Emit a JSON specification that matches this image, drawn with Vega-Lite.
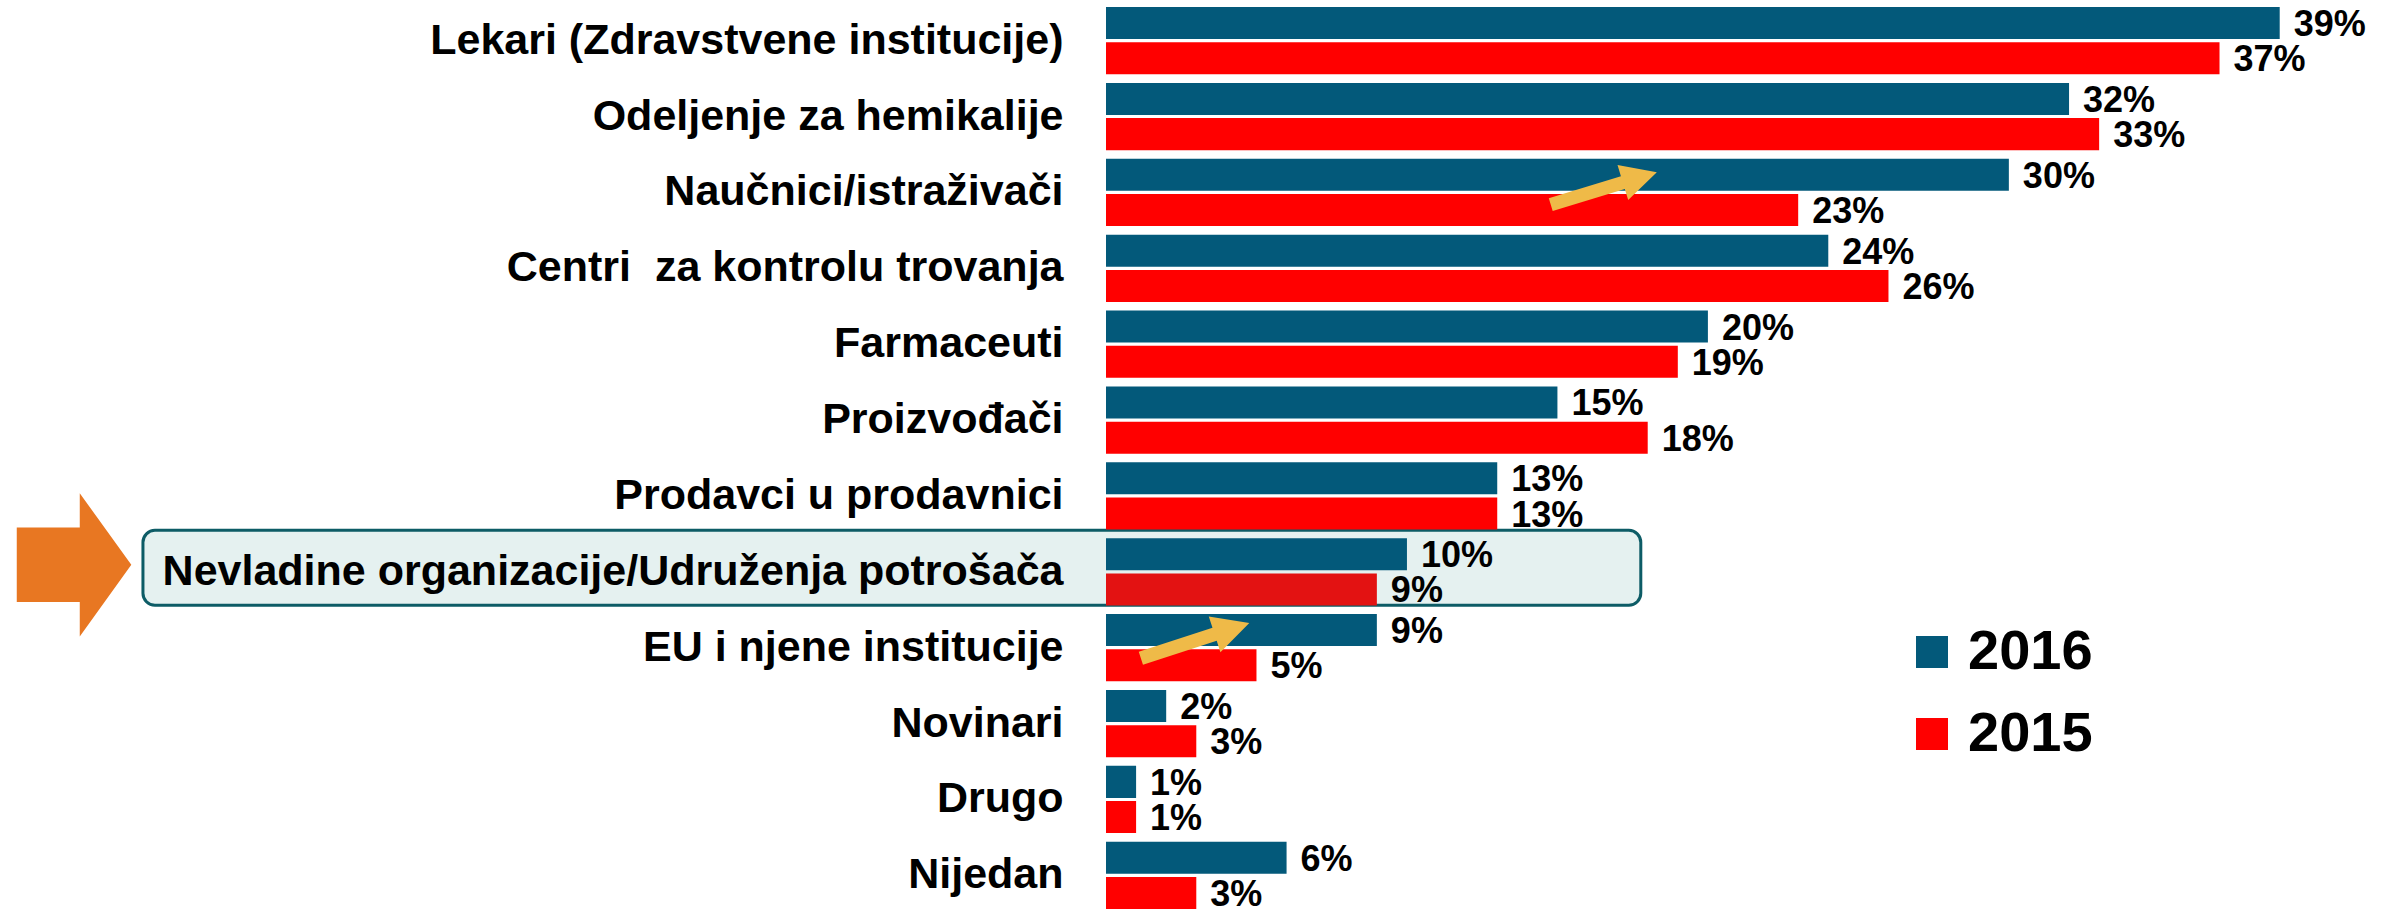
{
"$schema":"https://vega.github.io/schema/vega-lite/v6.json",
"width":1264,"height":902,
"autosize":{"type":"none"},
"padding":{"left":1106,"top":7,"right":24,"bottom":0},
"background":"#ffffff",
"config":{"view":{"stroke":null},"font":"Liberation Sans"},
"data":{"values":[
{"cat":"Lekari (Zdravstvene institucije)","year":"2016","v":0.39},
{"cat":"Lekari (Zdravstvene institucije)","year":"2015","v":0.37},
{"cat":"Odeljenje za hemikalije","year":"2016","v":0.32},
{"cat":"Odeljenje za hemikalije","year":"2015","v":0.33},
{"cat":"Naučnici/istraživači","year":"2016","v":0.30},
{"cat":"Naučnici/istraživači","year":"2015","v":0.23},
{"cat":"Centri \u00a0za kontrolu trovanja","year":"2016","v":0.24},
{"cat":"Centri \u00a0za kontrolu trovanja","year":"2015","v":0.26},
{"cat":"Farmaceuti","year":"2016","v":0.20},
{"cat":"Farmaceuti","year":"2015","v":0.19},
{"cat":"Proizvođači","year":"2016","v":0.15},
{"cat":"Proizvođači","year":"2015","v":0.18},
{"cat":"Prodavci u prodavnici","year":"2016","v":0.13},
{"cat":"Prodavci u prodavnici","year":"2015","v":0.13},
{"cat":"Nevladine organizacije/Udruženja potrošača","year":"2016","v":0.10},
{"cat":"Nevladine organizacije/Udruženja potrošača","year":"2015","v":0.09},
{"cat":"EU i njene institucije","year":"2016","v":0.09},
{"cat":"EU i njene institucije","year":"2015","v":0.05},
{"cat":"Novinari","year":"2016","v":0.02},
{"cat":"Novinari","year":"2015","v":0.03},
{"cat":"Drugo","year":"2016","v":0.01},
{"cat":"Drugo","year":"2015","v":0.01},
{"cat":"Nijedan","year":"2016","v":0.06},
{"cat":"Nijedan","year":"2015","v":0.03}
]},
"encoding":{
 "y":{"field":"cat","type":"nominal",
  "scale":{"domain":["Lekari (Zdravstvene institucije)","Odeljenje za hemikalije","Naučnici/istraživači","Centri \u00a0za kontrolu trovanja","Farmaceuti","Proizvođači","Prodavci u prodavnici","Nevladine organizacije/Udruženja potrošača","EU i njene institucije","Novinari","Drugo","Nijedan"],"paddingInner":0.113,"paddingOuter":0},
  "axis":{"title":null,"domain":false,"ticks":false,"tickSize":0,"labelPadding":43,"labelFont":"Liberation Sans","labelFontSize":43,"labelFontWeight":"bold","labelColor":"#000000","labelLimit":1200,"zindex":2}}
},
"layer":[
{"transform":[{"filter":"datum.cat === 'Nevladine organizacije/Udruženja potrošača' && datum.year === '2016'"}],
 "mark":{"type":"bar","height":75,"yOffset":-4,"cornerRadius":12,"fill":"#E5F1F0","stroke":"#0D5C66","strokeWidth":3},
 "encoding":{
  "x":{"datum":-0.32,"type":"quantitative","scale":{"domain":[0,0.42],"nice":false,"zero":false},"axis":null},
  "x2":{"datum":0.1777}
 }},
{"mark":{"type":"bar"},
 "encoding":{
  "x":{"field":"v","type":"quantitative","scale":{"domain":[0,0.42],"nice":false,"zero":false},"axis":null},
  "yOffset":{"field":"year","type":"nominal","sort":["2016","2015"],"scale":{"paddingInner":0.09,"paddingOuter":0}},
  "color":{"condition":{"test":"datum.cat === 'Nevladine organizacije/Udruženja potrošača' && datum.year === '2015'","value":"#E31212"},
   "field":"year","type":"nominal","sort":["2016","2015"],
   "scale":{"domain":["2016","2015"],"range":["#03597A","#FF0000"]},
   "legend":{"title":null,"orient":"none","legendX":798,"legendY":617,"direction":"vertical","symbolType":"square","symbolSize":1024,"symbolStrokeWidth":0,"labelFont":"Liberation Sans","labelFontSize":56,"labelFontWeight":"bold","labelColor":"#000000","labelOffset":8,"rowPadding":26}}
 }},
{"mark":{"type":"text","align":"left","baseline":"middle","dx":14,"dy":2,"font":"Liberation Sans","fontSize":36,"fontWeight":"bold","color":"#000000"},
 "encoding":{
  "x":{"field":"v","type":"quantitative"},
  "yOffset":{"field":"year","type":"nominal","sort":["2016","2015"]},
  "text":{"field":"v","type":"quantitative","format":".0%"}
 }},
{"transform":[{"filter":"datum.cat === 'Nevladine organizacije/Udruženja potrošača' && datum.year === '2016'"}],
 "mark":{"type":"point","shape":"M-0.8,-0.52L0.08,-0.52L0.08,-1L0.8,0L0.08,1L0.08,0.52L-0.8,0.52Z","size":20500,"filled":true,"fill":"#E87722","strokeWidth":0,"opacity":1,"yOffset":-7},
 "encoding":{"x":{"datum":-0.3429,"type":"quantitative"}}},
{"transform":[{"filter":"datum.cat === 'Naučnici/istraživači' && datum.year === '2016'"}],
 "mark":{"type":"point","shape":"M-1,-0.12L0.36,-0.12L0.36,-0.33L1,0L0.36,0.33L0.36,0.12L-1,0.12Z","size":12300,"angle":343,"filled":true,"fill":"#EFBA48","strokeWidth":0,"opacity":1,"yOffset":-4},
 "encoding":{"x":{"datum":0.1654,"type":"quantitative"}}},
{"transform":[{"filter":"datum.cat === 'EU i njene institucije' && datum.year === '2016'"}],
 "mark":{"type":"point","shape":"M-1,-0.12L0.36,-0.12L0.36,-0.33L1,0L0.36,0.33L0.36,0.12L-1,0.12Z","size":13000,"angle":342,"filled":true,"fill":"#EFBA48","strokeWidth":0,"opacity":1,"yOffset":-7},
 "encoding":{"x":{"datum":0.0296,"type":"quantitative"}}}
]
}
